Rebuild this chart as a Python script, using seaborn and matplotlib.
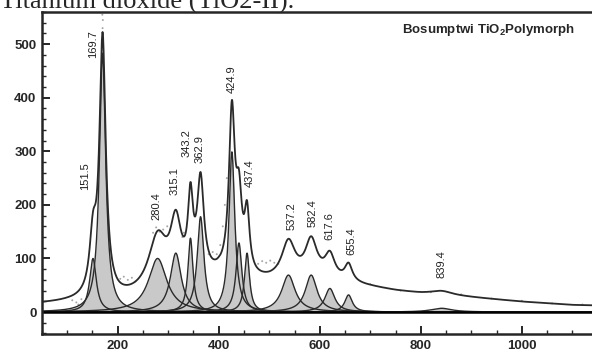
import numpy as np
import pandas as pd
import matplotlib.pyplot as plt
import seaborn as sns
from matplotlib.ticker import MultipleLocator

# fitted Lorentzian components: centre (cm-1), height, half width
peak_pos = [151, 170, 279, 315, 344, 364, 426, 440, 456, 538, 583, 620, 657, 841]
peak_height = [100, 483, 100, 110, 138, 178, 299, 129, 110, 69, 69, 44, 32, 7]
peak_hwhm = [8, 7.5, 22, 13, 6, 8, 7, 7, 6, 16, 14, 12, 9, 25]

# broad background under the fit, read at these shifts
bg_x = [50, 100, 150, 200, 250, 300, 350, 400, 450, 500, 550, 600, 650, 700, 750, 800, 850, 900, 950, 1000, 1050, 1100, 1150]
bg_y = [15, 17, 18, 20, 27, 36, 48, 60, 54, 54, 57, 58, 52, 46, 39, 34, 31, 27, 23, 19, 16, 13, 12]

# measured points that show next to the fit line
meas_x = [110, 118, 122, 128, 170, 170.5, 169.5, 205, 212, 220, 228, 235, 270, 276, 283, 290, 298, 328, 331,
          380, 388, 396, 403, 408, 412, 416, 478, 486, 494, 502, 510, 518, 700, 760, 820, 880, 940, 1000, 1060, 1120]
meas_y = [22, 18, 14, 24, 530, 545, 555, 62, 66, 60, 64, 57, 148, 158, 150, 154, 160, 140, 148,
          108, 112, 108, 125, 160, 200, 250, 90, 95, 92, 96, 92, 90, 52, 40, 37, 33, 25, 21, 16, 14]

# peak labels: text, x, bottom of text
lab_text = ['151.5', '169.7', '280.4', '315.1', '343.2', '362.9', '424.9', '437.4', '537.2', '582.4', '617.6', '655.4', '839.4']
lab_x = [135, 151, 277, 313, 336, 362, 426, 461, 544, 585, 620, 663, 841]
lab_y = [228, 474, 172, 218, 289, 278, 408, 233, 153, 159, 134, 106, 63]

x = np.arange(50, 1150, 0.5)
comps = [h / (1 + ((x - c) / w) ** 2) for c, h, w in zip(peak_pos, peak_height, peak_hwhm)]
fit = np.interp(x, bg_x, bg_y) + np.sum(comps, axis=0)

sns.set_style('ticks')
plt.rcParams['font.family'] = ['Liberation Sans', 'DejaVu Sans']
plt.rcParams['mathtext.fontset'] = 'custom'
plt.rcParams['mathtext.bf'] = 'Liberation Sans:bold'
plt.rcParams['mathtext.rm'] = 'Liberation Sans:bold'

fig = plt.figure(figsize=(5.92, 3.54), dpi=100)
ax = fig.add_axes([0.0709, 0.0565, 0.9291, 0.9095])

for c in comps:
    ax.fill_between(x, 0, c, color='#c9c9c9', lw=0)
for c in comps:
    sns.lineplot(x=x, y=c, ax=ax, color='#2a2a2a', lw=1.0)

sns.scatterplot(x=meas_x, y=meas_y, ax=ax, color='#a5a5a5', s=2, marker='o', edgecolor='none')
sns.lineplot(x=x, y=fit, ax=ax, color='#2a2a2a', lw=1.3)
ax.axhline(0, color='black', lw=1.8)

for t, lx, ly in zip(lab_text, lab_x, lab_y):
    ax.text(lx, ly, t, rotation=90, ha='center', va='bottom', fontsize=8, color='#222222')

ax.text(0.969, 0.944, r'Bosumptwi TiO$_\mathbf{2}$Polymorph', transform=ax.transAxes,
        ha='right', va='center', fontsize=9.5, fontweight='bold')

fig.text(0.0, 0.977, 'Titanium dioxide (TiO2-II).', family=['Liberation Serif', 'DejaVu Serif'],
         fontsize=19, ha='left', va='baseline')

ax.set_xlim(50, 1139)
ax.set_ylim(-41, 560)
ax.set_xticks([200, 400, 600, 800, 1000])
ax.set_yticks([0, 100, 200, 300, 400, 500])
ax.xaxis.set_minor_locator(MultipleLocator(50))
ax.yaxis.set_minor_locator(MultipleLocator(20))
ax.tick_params(which='major', direction='in', length=6, width=1.4, labelsize=9.5, pad=4)
ax.tick_params(which='minor', direction='in', length=3, width=1.0)
for lbl in ax.get_xticklabels() + ax.get_yticklabels():
    lbl.set_fontweight('bold')
for s in ['left', 'bottom', 'top']:
    ax.spines[s].set_linewidth(1.8)
ax.spines['right'].set_visible(False)
ax.set_xlabel('')
ax.set_ylabel('')

fig.savefig('out.png', dpi=100)
